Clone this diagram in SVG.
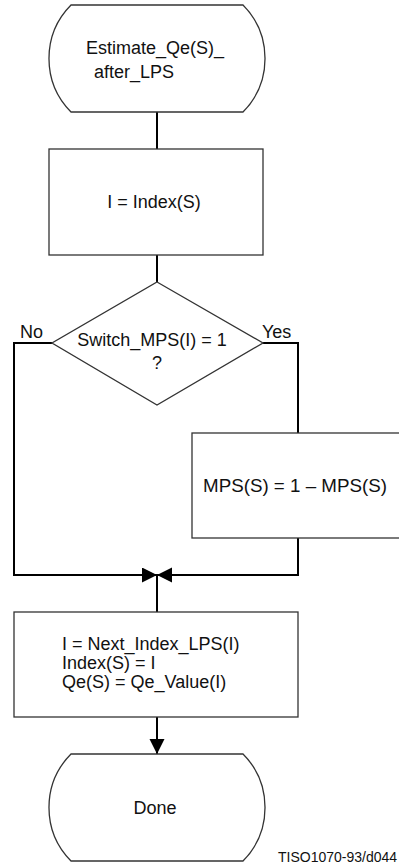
<svg xmlns="http://www.w3.org/2000/svg" width="399" height="866" viewBox="0 0 399 866">
<style>
.shape{fill:#fff;stroke:#333;stroke-width:1.3}
.conn{fill:none;stroke:#000;stroke-width:2}
text{font-family:"Liberation Sans",Arial,sans-serif;font-size:18px;fill:#111}
.mid{text-anchor:middle}
.small{font-size:14px}
</style>
<defs>
<marker id="arr" markerUnits="userSpaceOnUse" markerWidth="16" markerHeight="16" refX="15" refY="7.5" orient="auto" viewBox="0 0 16 16">
<path d="M0,0 L15,7.5 L0,15 Z" fill="#000"/>
</marker>
</defs>
<g id="connectors">
<line class="conn" x1="157" y1="112" x2="157" y2="149"/>
<line class="conn" x1="157" y1="255" x2="157" y2="282"/>
<polyline class="conn" points="52,343 14,343 14,575 157,575" marker-end="url(#arr)"/>
<polyline class="conn" points="263,343 298,343 298,433"/>
<polyline class="conn" points="298,538 298,575 157,575" marker-end="url(#arr)"/>
<line class="conn" x1="157" y1="575" x2="157" y2="612"/>
<line class="conn" x1="157" y1="717" x2="157" y2="754" marker-end="url(#arr)"/>
</g>
<g id="start">
<path class="shape" d="M71,5 H243 A76,76 0 0 1 243,112 H71 A76,76 0 0 1 71,5 Z"/>
<text x="86" y="54">Estimate_Qe(S)_</text>
<text x="94" y="78">after_LPS</text>
</g>
<g id="index">
<rect class="shape" x="49" y="149" width="214" height="106"/>
<text class="mid" x="154" y="208">I = Index(S)</text>
</g>
<g id="decision">
<polygon class="shape" points="157,282 263,343 157,405 52,343"/>
<text class="mid" x="152" y="346">Switch_MPS(I) = 1</text>
<text class="mid" x="157" y="369">?</text>
<text x="20" y="338">No</text>
<text x="262" y="338">Yes</text>
</g>
<g id="swap">
<rect class="shape" x="192" y="433" width="215" height="105"/>
<text x="203" y="492" textLength="184" lengthAdjust="spacingAndGlyphs">MPS(S) = 1 – MPS(S)</text>
</g>
<g id="update">
<rect class="shape" x="14" y="612" width="284" height="105"/>
<text x="62" y="650">I = Next_Index_LPS(I)</text>
<text x="62" y="669">Index(S) = I</text>
<text x="62" y="688">Qe(S) = Qe_Value(I)</text>
</g>
<g id="done">
<path class="shape" d="M71,754 H243 A76,76 0 0 1 243,861 H71 A76,76 0 0 1 71,754 Z"/>
<text class="mid" x="155" y="814">Done</text>
</g>
<text class="small" x="278" y="862">TISO1070-93/d044</text>
</svg>
